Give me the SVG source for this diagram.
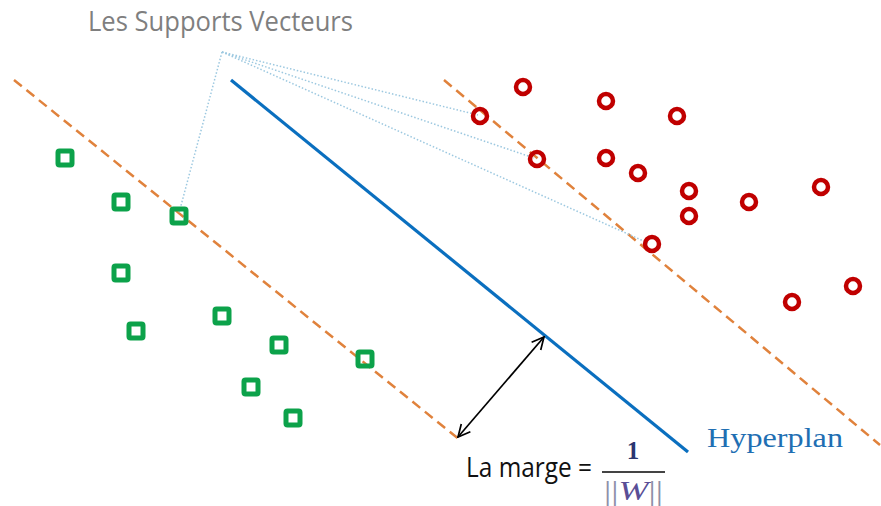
<svg xmlns="http://www.w3.org/2000/svg" width="881" height="506" viewBox="0 0 881 506">
<defs>
<style>
.sq{fill:none;stroke:#0ca24a;stroke-width:5}
.ci{fill:none;stroke:#c00000;stroke-width:4.5}
.dash{stroke:#e0823c;stroke-width:2.5;stroke-dasharray:10 6;fill:none}
.dot{stroke:#9cc8e0;stroke-width:1.5;stroke-dasharray:1.5 2;fill:none}
.sans{font-family:"Open Sans","Liberation Sans",sans-serif}
.serif{font-family:"Liberation Serif","DejaVu Serif",serif}
</style>
<marker id="ah" viewBox="0 0 14 14" refX="13" refY="7" markerWidth="14" markerHeight="14" markerUnits="userSpaceOnUse" orient="auto-start-reverse">
<path d="M1,1 L13,7 L1,13" fill="none" stroke="#000" stroke-width="1.7"/>
</marker>
</defs>
<rect width="881" height="506" fill="#fff"/>
<g id="connectors">
<line class="dash" x1="14" y1="80" x2="460" y2="440"/>
<line class="dash" x1="444" y1="80" x2="880" y2="445"/>
<line x1="231" y1="80" x2="688" y2="452" stroke="#0a6fbf" stroke-width="3.2"/>
<line class="dot" x1="222" y1="52" x2="179" y2="213"/>
<line class="dot" x1="222" y1="52" x2="478" y2="115"/>
<line class="dot" x1="222" y1="52" x2="534" y2="158"/>
<line class="dot" x1="222" y1="52" x2="648" y2="243"/>
<line x1="458" y1="437" x2="544" y2="337" stroke="#000" stroke-width="1.7" marker-start="url(#ah)" marker-end="url(#ah)"/>
</g>
<g id="squares">
<rect class="sq" x="58" y="151" width="14" height="14" rx="1.5"/>
<rect class="sq" x="114" y="195" width="14" height="14" rx="1.5"/>
<rect class="sq" x="172" y="209" width="14" height="14" rx="1.5"/>
<rect class="sq" x="114" y="266" width="14" height="14" rx="1.5"/>
<rect class="sq" x="129" y="324" width="14" height="14" rx="1.5"/>
<rect class="sq" x="215" y="309" width="14" height="14" rx="1.5"/>
<rect class="sq" x="272" y="338" width="14" height="14" rx="1.5"/>
<rect class="sq" x="358" y="352" width="14" height="14" rx="1.5"/>
<rect class="sq" x="244" y="380" width="14" height="14" rx="1.5"/>
<rect class="sq" x="286" y="411" width="14" height="14" rx="1.5"/>
</g>
<g id="circles">
<circle class="ci" cx="523" cy="87" r="7"/>
<circle class="ci" cx="606" cy="101" r="7"/>
<circle class="ci" cx="677" cy="116" r="7"/>
<circle class="ci" cx="480" cy="116" r="7"/>
<circle class="ci" cx="537" cy="159" r="7"/>
<circle class="ci" cx="606" cy="158" r="7"/>
<circle class="ci" cx="638" cy="173" r="7"/>
<circle class="ci" cx="689" cy="191" r="7"/>
<circle class="ci" cx="689" cy="216" r="7"/>
<circle class="ci" cx="749" cy="202" r="7"/>
<circle class="ci" cx="821" cy="187" r="7"/>
<circle class="ci" cx="652" cy="244" r="7"/>
<circle class="ci" cx="792" cy="302" r="7"/>
<circle class="ci" cx="853" cy="286" r="7"/>
</g>
<g id="title">
<text class="sans" x="88" y="31" font-size="27" fill="#7f7f7f" textLength="265" lengthAdjust="spacingAndGlyphs">Les Supports Vecteurs</text>
</g>
<g id="hyperplan-label">
<text class="serif" x="707" y="447" font-size="28" fill="#1f6fb3" textLength="136" lengthAdjust="spacingAndGlyphs">Hyperplan</text>
</g>
<g id="marge-label">
<text class="sans" x="466" y="477" font-size="27" fill="#111" textLength="126" lengthAdjust="spacingAndGlyphs">La marge =</text>
<text x="633" y="459" font-size="25" font-family="'Liberation Serif', serif" font-weight="bold" fill="#2b3670" text-anchor="middle">1</text>
<line x1="602" y1="472" x2="665" y2="472" stroke="#444" stroke-width="2"/>
<text x="604" y="500" font-size="28" font-family="Liberation Serif, serif" fill="#8e90a8" textLength="59" lengthAdjust="spacingAndGlyphs">||<tspan fill="#5a4e96" font-style="italic">W</tspan>||</text>
</g>
</svg>
